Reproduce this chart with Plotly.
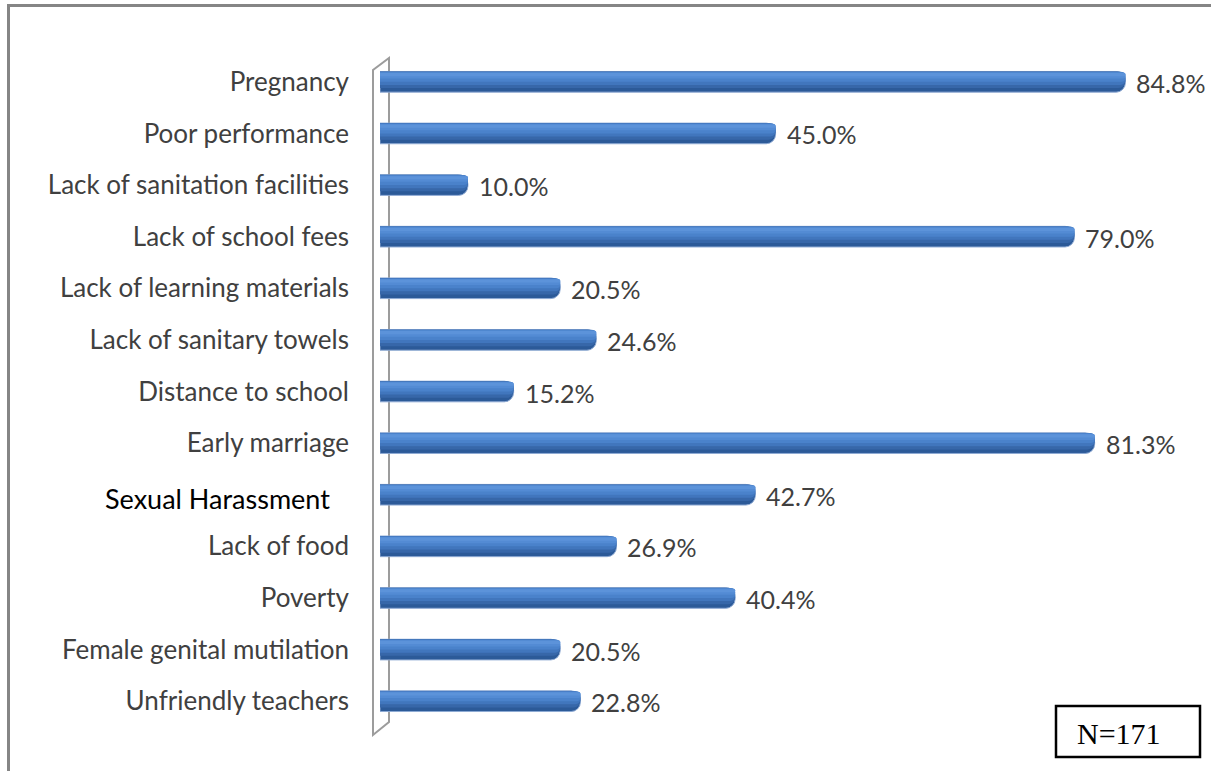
import plotly.graph_objects as go

# Reasons for girls dropping out of school (% of respondents, N=171)
reasons = [
    "Pregnancy",
    "Poor performance",
    "Lack of sanitation facilities",
    "Lack of school fees",
    "Lack of learning materials",
    "Lack of sanitary towels",
    "Distance to school",
    "Early marriage",
    "Sexual Harassment",
    "Lack of food",
    "Poverty",
    "Female genital mutilation",
    "Unfriendly teachers",
]
percentages = [84.8, 45.0, 10.0, 79.0, 20.5, 24.6, 15.2, 81.3, 42.7, 26.9, 40.4, 20.5, 22.8]
sample_note = "N=171"

W, H = 1211, 771
L, R, T, B = 380, 1200, 56, 727  # plot area in pixels


def px(x):
    return (x - L) / (R - L)


def py(y):
    return (B - y) / (B - T)


pos = list(range(len(reasons)))
# the "Sexual Harassment" label is set separately in a text box
tick_text = ["" if r == "Sexual Harassment" else r for r in reasons]

fig = go.Figure()

# cylinder-like bars: dark base with progressively lighter bands toward the top
bands = [
    dict(offset=-0.200, width=0.400, color="#2c5a98", line="#8eaad4", lw=1),
    dict(offset=-0.198, width=0.320, color="#3767a9"),
    dict(offset=-0.195, width=0.255, color="#4176bd"),
    dict(offset=-0.190, width=0.190, color="#4a82cb"),
    dict(offset=-0.182, width=0.120, color="#538bd4"),
    dict(offset=-0.170, width=0.060, color="#5c93da"),
]
for b in bands:
    fig.add_trace(go.Bar(
        x=percentages,
        y=pos,
        orientation="h",
        offset=b["offset"],
        width=b["width"],
        marker=dict(
            color=b["color"],
            cornerradius="45%",
            line=dict(color=b.get("line", b["color"]), width=b.get("lw", 0)),
        ),
        hoverinfo="skip",
        showlegend=False,
    ))

# value labels at the end of each bar
for i, v in enumerate(percentages):
    fig.add_annotation(
        x=v, y=i, xref="x", yref="y",
        text=f"{v:.1f}%",
        showarrow=False,
        xanchor="left", yanchor="middle",
        xshift=9, yshift=-1,
        font=dict(family="Lato", size=25, color="#404040"),
    )

# separately placed category label
fig.add_annotation(
    x=px(103), y=reasons.index("Sexual Harassment"), xref="paper", yref="y",
    text="Sexual Harassment",
    showarrow=False, xanchor="left", yanchor="middle", yshift=-4,
    font=dict(family="Lato", size=27, color="#000000"),
)

# sample size box
fig.add_shape(
    type="rect", xref="paper", yref="paper",
    x0=px(1056), x1=px(1200), y0=py(757), y1=py(706),
    line=dict(color="#000000", width=2.5), fillcolor="white",
)
fig.add_annotation(
    x=px(1119), y=py(733), xref="paper", yref="paper",
    text=sample_note, showarrow=False,
    xanchor="center", yanchor="middle",
    font=dict(family="Liberation Serif", size=30, color="#000000"),
)

# 3-D back wall outline behind the bars
wall = (f"M {px(373)},{py(735)} L {px(373)},{py(70)} "
        f"L {px(389)},{py(58)} L {px(389)},{py(722)} Z")
fig.add_shape(
    type="path", xref="paper", yref="paper", path=wall,
    line=dict(color="#9c9c9c", width=2), layer="below",
)

# chart frame (top and left edges)
fig.add_shape(type="line", xref="paper", yref="paper",
              x0=px(7), x1=px(1215), y0=py(5.5), y1=py(5.5),
              line=dict(color="#858585", width=3))
fig.add_shape(type="line", xref="paper", yref="paper",
              x0=px(8.5), x1=px(8.5), y0=py(4), y1=py(775),
              line=dict(color="#858585", width=3))

fig.update_layout(
    width=W, height=H,
    margin=dict(l=L, r=W - R, t=T, b=H - B),
    paper_bgcolor="white",
    plot_bgcolor="white",
    barmode="overlay",
    xaxis=dict(
        range=[0, (R - L) / 8.79],
        visible=False,
        fixedrange=True,
    ),
    yaxis=dict(
        tickmode="array",
        tickvals=pos,
        ticktext=tick_text,
        range=[len(reasons) - 0.5, -0.5],
        showgrid=False, zeroline=False, showline=False,
        ticks="",
        ticklabelstandoff=30,
        tickfont=dict(family="Lato", size=26, color="#404040"),
        fixedrange=True,
    ),
)

fig.write_html("out.html")
